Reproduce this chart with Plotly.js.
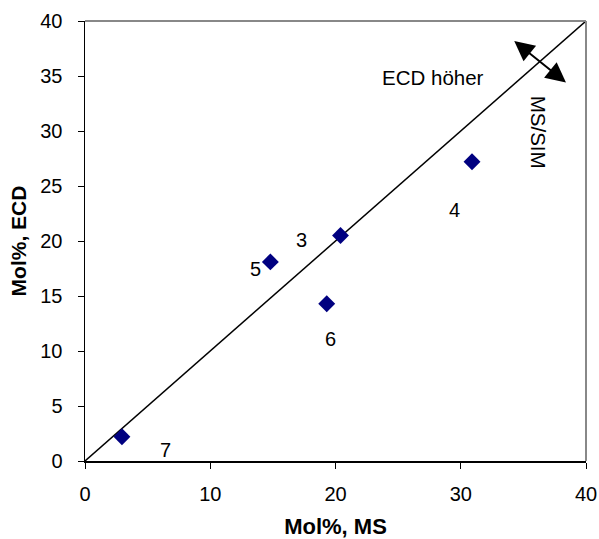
<!DOCTYPE html>
<html>
<head>
<meta charset="utf-8">
<script src="https://cdn.plot.ly/plotly-3.0.1.min.js"></script>
<style>body{margin:0;padding:0;background:#fff;}</style>
</head>
<body>
<div id="chart" style="width:599px;height:539px;"></div>
<script>
// Data
const msValues = [2.95, 14.8, 20.4, 19.3, 30.9];
const ecdValues = [2.2, 18.1, 20.5, 14.3, 27.2];
const pointLabels = ['7', '5', '3', '6', '4'];
const labelX = [6.4, 13.6, 17.3, 19.6, 29.5];
const labelY = [1.0, 17.5, 20.1, 11.1, 22.8];
const diagX = [0, 40];
const diagY = [0, 40];
const xTicks = [0, 10, 20, 30, 40];
const yTicks = [0, 5, 10, 15, 20, 25, 30, 35, 40];

const font = 'Liberation Sans, Arial, sans-serif';

const traces = [
  {x: diagX, y: diagY, mode: 'lines', line: {color: '#000', width: 1.5}, hoverinfo: 'skip', showlegend: false},
  {x: msValues, y: ecdValues, mode: 'markers', marker: {symbol: 'diamond', size: 13, color: '#000080'}, showlegend: false}
];

const annotations = pointLabels.map((t, i) => ({
  x: labelX[i], y: labelY[i], xref: 'x', yref: 'y', text: t, showarrow: false,
  font: {family: font, size: 20, color: '#000'}
}));
annotations.push({x: 27.8, y: 34.9, xref: 'x', yref: 'y', text: 'ECD höher', showarrow: false,
  font: {family: font, size: 20.5, color: '#000'}});
annotations.push({x: 36.2, y: 29.9, xref: 'x', yref: 'y', text: 'MS/SIM', showarrow: false, textangle: 90,
  font: {family: font, size: 20.5, color: '#000'}});
// double-headed arrow
annotations.push({x: 38.4, y: 34.4, ax: 34.15, ay: 38.3, xref: 'x', yref: 'y', axref: 'x', ayref: 'y',
  text: '', showarrow: true, arrowhead: 2, arrowside: 'end+start', arrowsize: 2, arrowwidth: 2, arrowcolor: '#000'});

const layout = {
  width: 599, height: 539,
  margin: {l: 85, r: 13, t: 21, b: 78},
  paper_bgcolor: '#fff', plot_bgcolor: '#fff',
  font: {family: font, color: '#000'},
  xaxis: {
    range: [0, 40], tickvals: xTicks, ticktext: xTicks.map(String),
    showgrid: false, zeroline: false, showline: true, linecolor: '#000', linewidth: 1.5,
    ticks: 'outside', ticklen: 6, tickcolor: '#000', tickfont: {family: font, size: 20},
    ticklabelstandoff: 8,
    automargin: false,
    title: {text: '<b>Mol%, MS</b>', font: {family: font, size: 22}, standoff: 22}
  },
  yaxis: {
    range: [0, 40], tickvals: yTicks, ticktext: yTicks.map(String),
    showgrid: false, zeroline: false, showline: true, linecolor: '#000', linewidth: 1.5,
    ticks: 'outside', ticklen: 6, tickcolor: '#000', tickfont: {family: font, size: 20},
    ticklabelstandoff: 11,
    automargin: false,
    title: {text: '<b>Mol%, ECD</b>', font: {family: font, size: 21}, standoff: 8}
  },
  shapes: [
    {type: 'line', xref: 'paper', yref: 'paper', x0: 0, x1: 1, y0: 1, y1: 1, line: {color: '#888', width: 2}},
    {type: 'line', xref: 'paper', yref: 'paper', x0: 1, x1: 1, y0: 0, y1: 1, line: {color: '#888', width: 2}}
  ],
  annotations: annotations
};

Plotly.newPlot('chart', traces, layout, {displayModeBar: false, staticPlot: true});
</script>
</body>
</html>
